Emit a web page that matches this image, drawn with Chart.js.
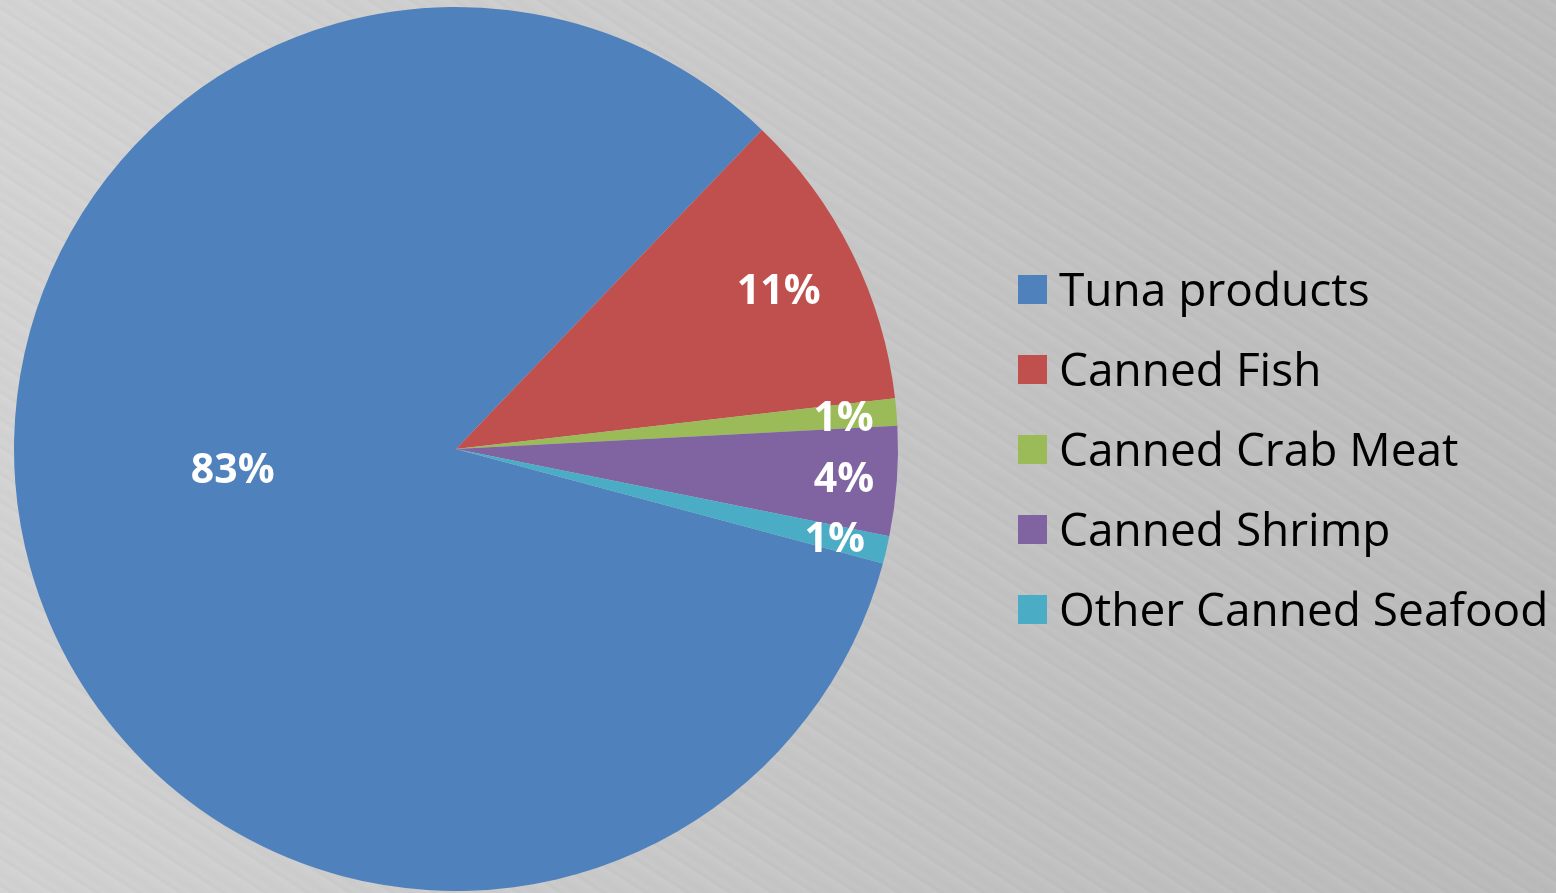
<!DOCTYPE html>
<html>
<head>
<meta charset="utf-8">
<script src="https://cdn.jsdelivr.net/npm/chart.js@4"></script>
<style>
  html, body { margin: 0; padding: 0; }
  body {
    width: 1556px;
    height: 893px;
    overflow: hidden;
    background:
      repeating-linear-gradient(33deg, rgba(255,255,255,0) 0px, rgba(255,255,255,0.045) 4px, rgba(0,0,0,0.025) 7px, rgba(255,255,255,0) 11px, rgba(0,0,0,0.015) 17px, rgba(255,255,255,0) 23px),
      linear-gradient(100deg, #d4d4d4 0%, #cbcbcb 40%, #c1c1c1 70%, #bbbbbb 100%);
  }
  #wrap { position: relative; width: 1556px; height: 893px; }
</style>
</head>
<body>
<div id="wrap"><canvas id="pie-chart"></canvas></div>
<script>
//pie chart

var ctx = document.getElementById('pie-chart');

var shares = [83, 11, 1, 4, 1];
var products = ['Tuna products', 'Canned Fish', 'Canned Crab Meat', 'Canned Shrimp', 'Other Canned Seafood'];
var colors = ['#4f81bd', '#c0504d', '#9bbb59', '#8064a2', '#4bacc6'];

//percent labels drawn inside the slices
var sliceLabels = {
    id: 'sliceLabels',
    afterDatasetsDraw: function(chart, args, opts) {
        var c = chart.ctx;
        var meta = chart.getDatasetMeta(0);
        var data = chart.data.datasets[0].data;
        var total = data.reduce(function(a, b) { return a + b; }, 0);
        c.save();
        c.font = 'bold 41px "Open Sans"';
        c.fillStyle = '#ffffff';
        c.textAlign = 'center';
        c.textBaseline = 'middle';
        meta.data.forEach(function(arc, i) {
            var p = arc.getProps(['x', 'y', 'startAngle', 'endAngle', 'outerRadius'], true);
            var mid = (p.startAngle + p.endAngle) / 2 + (opts.turn[i] || 0) * Math.PI / 180;
            var r = p.outerRadius * opts.radius[i];
            var text = Math.round(data[i] / total * 100) + '%';
            c.fillText(text, p.x + Math.cos(mid) * r, p.y + Math.sin(mid) * r + 3);
        });
        c.restore();
    }
};

//legend on the right, one row per product
var sideLegend = {
    id: 'sideLegend',
    afterDraw: function(chart, args, opts) {
        var c = chart.ctx;
        var ds = chart.data.datasets[0];
        c.save();
        c.font = '46px "Open Sans"';
        c.textAlign = 'left';
        c.textBaseline = 'alphabetic';
        chart.data.labels.forEach(function(label, i) {
            var cy = opts.top + i * opts.step;
            c.fillStyle = ds.backgroundColor[i];
            c.fillRect(opts.left, cy - opts.box / 2, opts.box, opts.box);
            c.fillStyle = '#000000';
            c.fillText(label, opts.left + opts.box + 12, cy + 16);
        });
        c.restore();
    }
};

var myChart = new Chart(ctx, {
    type: 'pie',
    data: {
        labels: products,
        datasets: [{
            data: shares,
            backgroundColor: colors,
            borderWidth: 0
        }]
    },
    options: {
        responsive: true,
        maintainAspectRatio: false,
        animation: false,
        rotation: 105,
        layout: {
            padding: { left: 14, right: 658, top: 7, bottom: 2 }
        },
        plugins: {
            legend: { display: false },
            tooltip: { enabled: false },
            sliceLabels: {
                radius: [0.507, 0.815, 0.88, 0.88, 0.88],
                turn: [10.7, 0, 0, 0, 0]
            },
            sideLegend: {
                left: 1018,
                top: 289.5,
                step: 80,
                box: 29
            }
        }
    },
    plugins: [sliceLabels, sideLegend]
})
</script>
</body>
</html>
